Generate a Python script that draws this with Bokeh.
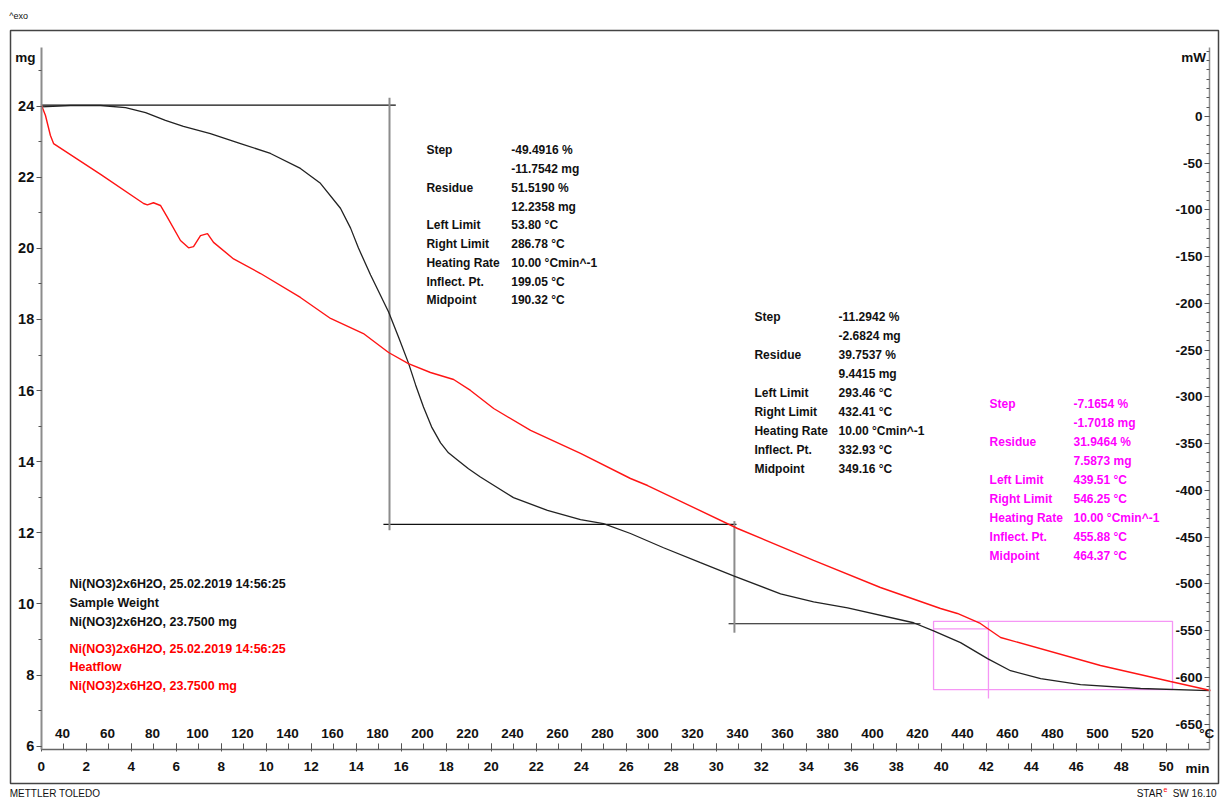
from bokeh.plotting import figure
from bokeh.models import Range1d, LinearAxis, FixedTicker, Label, ColumnDataSource
from bokeh.embed import file_html
from bokeh.resources import INLINE
from bokeh.core.properties import value

FONT = "Liberation Sans"

# ---------------- data ----------------
# TGA sample weight (mg) vs time (min)
tga_time = [0.00, 1.30, 2.64, 3.75, 4.64, 5.52, 6.32, 7.52, 8.86, 10.19, 11.52, 12.41,
            13.30, 13.75, 14.10, 14.64, 15.44, 15.88, 16.32, 16.64, 16.99, 17.35, 17.75,
            18.10, 18.50, 18.99, 19.52, 20.99, 22.50, 23.97, 24.99, 26.19, 27.66, 29.30,
            30.77, 32.86, 34.33, 35.84, 38.77, 39.66, 40.86, 42.06, 43.08, 44.42, 46.19,
            48.86, 51.93]
tga_mass = [23.98, 24.02, 24.02, 23.96, 23.82, 23.60, 23.43, 23.23, 22.95, 22.67, 22.25, 21.83,
            21.13, 20.57, 20.01, 19.25, 18.21, 17.51, 16.78, 16.16, 15.54, 14.98, 14.53,
            14.25, 14.05, 13.80, 13.57, 12.99, 12.63, 12.37, 12.26, 11.98, 11.58, 11.16,
            10.79, 10.28, 10.06, 9.89, 9.47, 9.24, 8.91, 8.46, 8.12, 7.90, 7.73,
            7.62, 7.56]

# DSC heat flow (mW) vs time (min)
hf_time = [0.00, 0.19, 0.41, 0.55, 2.64, 4.55, 4.72, 4.99, 5.30, 5.61, 6.19, 6.55, 6.77,
           7.08, 7.39, 7.66, 8.55, 9.75, 11.52, 12.86, 14.32, 15.44, 16.32, 17.30, 18.33,
           19.08, 20.11, 21.75, 23.97, 26.19, 26.95, 30.95, 34.33, 37.30, 39.97, 40.72,
           41.74, 42.64, 47.08, 50.19, 51.97]
hf_mw = [12.8, 1.1, -20.3, -29.0, -62.0, -93.1, -94.6, -92.3, -95.2, -108.0, -132.7, -140.5,
         -139.2, -127.4, -125.3, -134.7, -152.4, -168.0, -193.6, -216.1, -232.2, -252.5,
         -264.3, -273.9, -281.4, -293.1, -312.4, -335.9, -360.5, -387.3, -394.8, -440.8,
         -475.0, -503.9, -526.4, -531.7, -542.4, -557.4, -587.4, -604.5, -614.1]

# ticks
mg_ticks = list(range(6, 25, 2))
mg_minor = list(range(6, 26))
time_ticks = list(range(0, 51, 2))
time_minor = list(range(0, 52))
temp_ticks = list(range(40, 521, 20))
mw_ticks = list(range(-650, 1, 50))
mw_minor = list(range(-670, 71, 10))

# step evaluations (black): baselines and step markers
step_h_t0 = [0.0, 15.21, 30.55]
step_h_t1 = [15.76, 30.90, 39.08]
step_h_mg = [24.03, 12.2358, 9.4415]
step_v_t = [15.48, 30.81]
step_v_mg0 = [24.24, 12.33]
step_v_mg1 = [12.07, 9.19]

# third step evaluation (magenta)
eval3_t = [39.66, 50.28]
eval3_mg = [9.51, 7.5873]
eval3_mid_t = 42.10
eval3_mid_mg = 9.30
eval3_v_mg = [9.53, 7.34]

block1_keys = ["Step", "", "Residue", "", "Left Limit", "Right Limit", "Heating Rate", "Inflect. Pt.", "Midpoint"]
block1_vals = ["-49.4916 %", "-11.7542 mg", "51.5190 %", "12.2358 mg", "53.80 °C", "286.78 °C",
               "10.00 °Cmin^-1", "199.05 °C", "190.32 °C"]
block2_keys = block1_keys
block2_vals = ["-11.2942 %", "-2.6824 mg", "39.7537 %", "9.4415 mg", "293.46 °C", "432.41 °C",
               "10.00 °Cmin^-1", "332.93 °C", "349.16 °C"]
block3_keys = block1_keys
block3_vals = ["-7.1654 %", "-1.7018 mg", "31.9464 %", "7.5873 mg", "439.51 °C", "546.25 °C",
               "10.00 °Cmin^-1", "455.88 °C", "464.37 °C"]

legend_black = ["Ni(NO3)2x6H2O, 25.02.2019 14:56:25", "Sample Weight", "Ni(NO3)2x6H2O, 23.7500 mg"]
legend_red = ["Ni(NO3)2x6H2O, 25.02.2019 14:56:25", "Heatflow", "Ni(NO3)2x6H2O, 23.7500 mg"]

# ---------------- figure ----------------
p = figure(width=1220, height=800,
           x_range=Range1d(-1.8089, 52.413), y_range=Range1d(4.470, 26.973),
           x_axis_type=None, y_axis_type=None,
           output_backend="svg", toolbar_location=None,
           min_border_left=0, min_border_right=0, min_border_top=0, min_border_bottom=0)
p.extra_y_ranges = {"mw": Range1d(-731.8, 124.1)}
p.extra_x_ranges = {"temp": Range1d(12.41, 554.63)}
p.outline_line_color = None
p.background_fill_color = "white"
p.border_fill_color = "white"

# outer instrument frame
p.quad(left=-1.364, right=52.324, top=26.13, bottom=4.948, fill_color=None,
       line_color="#444444", line_width=1.5)

def style_axis(ax, size="13.5px"):
    ax.major_label_text_font = FONT
    ax.major_label_text_font_size = size
    ax.major_label_text_font_style = "bold"
    ax.major_label_text_color = "#111111"

# left mg axis
ax_mg = LinearAxis(fixed_location=0, bounds=(5.9, 25.65),
                   ticker=FixedTicker(ticks=mg_ticks, minor_ticks=mg_minor))
style_axis(ax_mg, "14.5px")
ax_mg.axis_line_color = "#8c8c8c"
ax_mg.axis_line_width = 2
ax_mg.major_tick_in = 0
ax_mg.major_tick_out = 5
ax_mg.minor_tick_in = 0
ax_mg.minor_tick_out = 3
ax_mg.major_tick_line_color = "#555555"
ax_mg.minor_tick_line_color = "#555555"
ax_mg.major_label_standoff = 2
p.add_layout(ax_mg, "left")

# right mW axis (labels inside)
ax_mw = LinearAxis(y_range_name="mw", fixed_location=51.93, bounds=(-677, 74),
                   ticker=FixedTicker(ticks=mw_ticks, minor_ticks=mw_minor))
style_axis(ax_mw)
ax_mw.major_label_overrides = {t: str(t) for t in mw_ticks}
ax_mw.axis_line_color = "#8c8c8c"
ax_mw.axis_line_width = 1.5
ax_mw.major_tick_in = 0
ax_mw.major_tick_out = 5
ax_mw.minor_tick_in = 0
ax_mw.minor_tick_out = 3
ax_mw.major_tick_line_color = "#555555"
ax_mw.minor_tick_line_color = "#555555"
ax_mw.major_label_standoff = 2
p.add_layout(ax_mw, "left")

# time axis
ax_t = LinearAxis(fixed_location=5.904, bounds=(0, 51.93),
                  ticker=FixedTicker(ticks=time_ticks, minor_ticks=time_minor))
style_axis(ax_t)
ax_t.axis_line_color = "#666666"
ax_t.axis_line_width = 1.5
ax_t.major_tick_in = 6
ax_t.major_tick_out = 2
ax_t.minor_tick_in = 6
ax_t.minor_tick_out = 0
ax_t.major_tick_line_color = "#555555"
ax_t.minor_tick_line_color = "#555555"
ax_t.major_label_standoff = 10
p.add_layout(ax_t, "below")

# temperature axis (labels above the time axis)
ax_T = LinearAxis(x_range_name="temp", fixed_location=5.904, bounds=(30.5, 549.8),
                  ticker=FixedTicker(ticks=temp_ticks, minor_ticks=[]))
style_axis(ax_T)
ax_T.axis_line_color = None
ax_T.major_tick_line_color = None
ax_T.minor_tick_line_color = None
ax_T.major_tick_in = 0
ax_T.major_tick_out = 0
ax_T.major_label_standoff = 12
p.add_layout(ax_T, "above")

# step evaluation lines
p.segment(x0=step_h_t0, x1=step_h_t1, y0=step_h_mg, y1=step_h_mg, line_color="#111111", line_width=1.2)
p.segment(x0=step_v_t, x1=step_v_t, y0=step_v_mg0, y1=step_v_mg1, line_color="#8c8c8c", line_width=2)

# magenta evaluation
MAG_L = "#f596f5"
p.quad(left=eval3_t[0], right=eval3_t[1], top=eval3_mg[0], bottom=eval3_mg[1],
       fill_color=None, line_color=MAG_L, line_width=1.3)
p.segment(x0=[eval3_t[0]], x1=[eval3_mid_t], y0=[eval3_mid_mg], y1=[eval3_mid_mg], line_color=MAG_L, line_width=1.3)
p.segment(x0=[eval3_mid_t], x1=[eval3_mid_t], y0=[eval3_v_mg[0]], y1=[eval3_v_mg[1]], line_color=MAG_L, line_width=1.3)

# curves
p.line(tga_time, tga_mass, line_color="#222222", line_width=1.3)
p.line(hf_time, hf_mw, y_range_name="mw", line_color="#ff1414", line_width=1.4)

# evaluation text blocks
def block(keys, vals, tx_key, tx_val, y0, dy, color):
    ys = [y0 - i * dy for i in range(len(keys))]
    src = ColumnDataSource(dict(xk=[tx_key] * len(keys), xv=[tx_val] * len(keys), y=ys, k=keys, v=vals))
    for xcol, tcol in (("xk", "k"), ("xv", "v")):
        p.text(x=xcol, y="y", text=tcol, source=src, text_font=value(FONT), text_font_size="12px",
               text_font_style="bold", text_color=color, text_baseline="middle", text_align="left")

block(block1_keys, block1_vals, 17.12, 20.89, 22.754, 0.5274, "#111111")
block(block2_keys, block2_vals, 31.70, 35.44, 18.084, 0.5356, "#111111")
block(block3_keys, block3_vals, 42.15, 45.88, 15.609, 0.5316, "#ff00ff")

# sample info
leg_y_black = [10.565, 10.031, 9.505]
leg_y_red = [8.737, 8.220, 7.685]
for txt, yy in zip(legend_black, leg_y_black):
    p.add_layout(Label(x=1.258, y=yy, text=txt, text_font=FONT, text_font_size="12.5px",
                       text_font_style="bold", text_color="#111111", text_baseline="middle"))
for txt, yy in zip(legend_red, leg_y_red):
    p.add_layout(Label(x=1.258, y=yy, text=txt, text_font=FONT, text_font_size="12.5px",
                       text_font_style="bold", text_color="#ff0000", text_baseline="middle"))

def lab(x, y, text, size="13.5px", style="bold", align="center", color="#111111"):
    p.add_layout(Label(x=x, y=y, text=text, text_font=FONT, text_font_size=size, text_font_style=style,
                       text_color=color, text_align=align, text_baseline="middle"))

lab(-0.70, 25.37, "mg")
lab(51.22, 25.37, "mW")
lab(51.39, 5.37, "min")
lab(51.80, 6.35, "°C")
lab(-1.42, 26.55, "^exo", size="9px", style="normal", align="left")
lab(-1.40, 4.667, "METTLER TOLEDO", size="10px", style="normal", align="left")
lab(52.24, 4.667, "SW 16.10", size="10px", style="normal", align="right")
lab(49.84, 4.667, "STAR", size="10px", style="normal", align="right")
lab(49.88, 4.78, "e", size="7px", style="normal", align="left", color="#ff0000")

open("out.html", "w").write(file_html(p, INLINE))
